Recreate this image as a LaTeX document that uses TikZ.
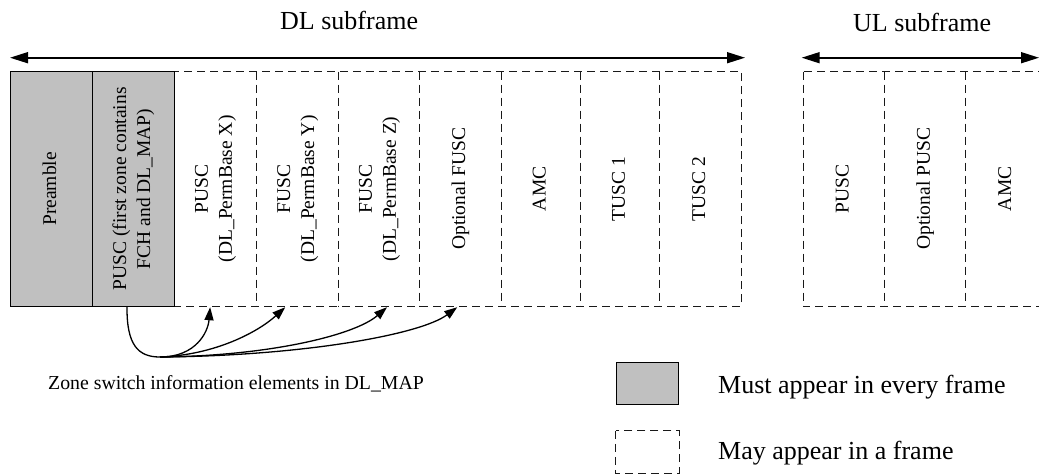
\documentclass[tikz,border=0pt]{standalone}
\usepackage{fontspec}
\setmainfont{Liberation Serif}
\usetikzlibrary{arrows.meta,calc}

\definecolor{mustgray}{RGB}{192,192,192}
\definecolor{dashgray}{RGB}{25,25,25}

\newcommand{\zonetext}[1]{\rotatebox{90}{\begin{tabular}{@{}c@{}}#1\end{tabular}}}

\tikzset{
  zonebase/.style={rectangle, inner sep=0pt, minimum height=234.3pt,
    font=\fontsize{19.5}{24}\selectfont},
  mustzone/.style={zonebase, draw=black, line width=0.9pt, fill=mustgray},
  mayzone/.style={zonebase},
  dashline/.style={draw=dashgray, line width=1pt, dash pattern=on 8pt off 5pt},
  spanarrow/.style={line width=1.6pt, {Triangle[length=18pt,width=11pt]}-{Triangle[length=18pt,width=11pt]}},
  switcharrow/.style={line width=1.3pt, -{Triangle[length=13pt,width=9pt]}},
  title/.style={anchor=base west, inner sep=0pt, font=\fontsize{26}{30}\selectfont},
  note/.style={anchor=base west, inner sep=0pt, font=\fontsize{19.8}{24}\selectfont},
}

\begin{document}
\begin{tikzpicture}[x=1pt,y=-1pt]
\useasboundingbox (0,0) rectangle (1039,475);
\clip (0,0) rectangle (1039,475);

% subframe spans
\coordinate (dlL) at (10,57.7);
\coordinate (dlR) at (745,57.7);
\coordinate (ulL) at (801.7,57.7);
\coordinate (ulR) at (1039,57.7);
\draw[spanarrow] (dlL) -- (dlR);
\draw[spanarrow] (ulL) -- (ulR);
\node[title] (dlt) at (280,29) {DL subframe};
\node[title] (ult) at (853,31) {UL subframe};

% optional DL zones
\node[mayzone, minimum width=81.7pt] (z1) at (215.15,188.85) {\zonetext{PUSC\\(DL\_PermBase X)}};
\node[mayzone, minimum width=82.5pt] (z2) at (297.25,188.85) {\zonetext{FUSC\\(DL\_PermBase Y)}};
\node[mayzone, minimum width=81pt]   (z3) at (379,188.85)    {\zonetext{FUSC\\(DL\_PermBase Z)}};
\node[mayzone, minimum width=81.5pt] (z4) at (460.25,188.85) {\zonetext{Optional FUSC}};
\node[mayzone, minimum width=79.5pt] (z5) at (540.75,188.85) {\zonetext{AMC}};
\node[mayzone, minimum width=79pt]   (z6) at (620,188.85)    {\zonetext{TUSC 1}};
\node[mayzone, minimum width=81.5pt] (z7) at (700.25,188.85) {\zonetext{TUSC 2}};
\draw[dashline] (z1.north west) rectangle (z7.south east);
\foreach \z in {z1,z2,z3,z4,z5,z6}
  \draw[dashline] (\z.north east) -- (\z.south east);

% mandatory DL zones
\node[mustzone, minimum width=82.5pt] (pre) at (51.25,188.85) {\zonetext{Preamble}};
\node[mustzone, minimum width=81.8pt] (p1) at (133.4,188.85) {\zonetext{PUSC (first zone contains\\FCH and DL\_MAP)}};

% UL zones
\node[mayzone, minimum width=81pt]   (u1) at (843.8,188.85)  {\zonetext{PUSC}};
\node[mayzone, minimum width=81.4pt] (u2) at (925,188.85)    {\zonetext{Optional PUSC}};
\node[mayzone, minimum width=81.3pt] (u3) at (1006.35,188.85) {\zonetext{AMC}};
\draw[dashline] (u1.north west) rectangle (u3.south east);
\foreach \z in {u1,u2}
  \draw[dashline] (\z.north east) -- (\z.south east);

% zone switch pointers
\coordinate (hub) at (160,357);
\draw[switcharrow] ([xshift=-6.4pt]p1.south) .. controls (126.6,345) and (138,357) .. (hub)
   .. controls (196,357) and (208,332) .. ([xshift=-5pt,yshift=-1pt]z1.south);
\draw[switcharrow] (hub) .. controls (215,355) and (258,332) .. ([xshift=-12pt,yshift=-1pt]z2.south);
\draw[switcharrow] (hub) .. controls (270,356) and (355,335) .. ([xshift=8pt,yshift=-1pt]z3.south);
\draw[switcharrow] (hub) .. controls (300,356) and (420,335) .. ([xshift=-3pt,yshift=-1pt]z4.south);
\node[note] (zs) at (48,389) {Zone switch information elements in DL\_MAP};

% legend
\node[mustzone, minimum width=62pt, minimum height=42pt] (lg1) at (647,383) {};
\node[mayzone, minimum width=63pt, minimum height=42pt] (lg2) at (647.5,452) {};
\draw[dashline] (lg2.north west) rectangle (lg2.south east);
\node[title] (lt1) at (718,393) {Must appear in every frame};
\node[title] (lt2) at (718,459) {May appear in a frame};
\end{tikzpicture}
\end{document}
